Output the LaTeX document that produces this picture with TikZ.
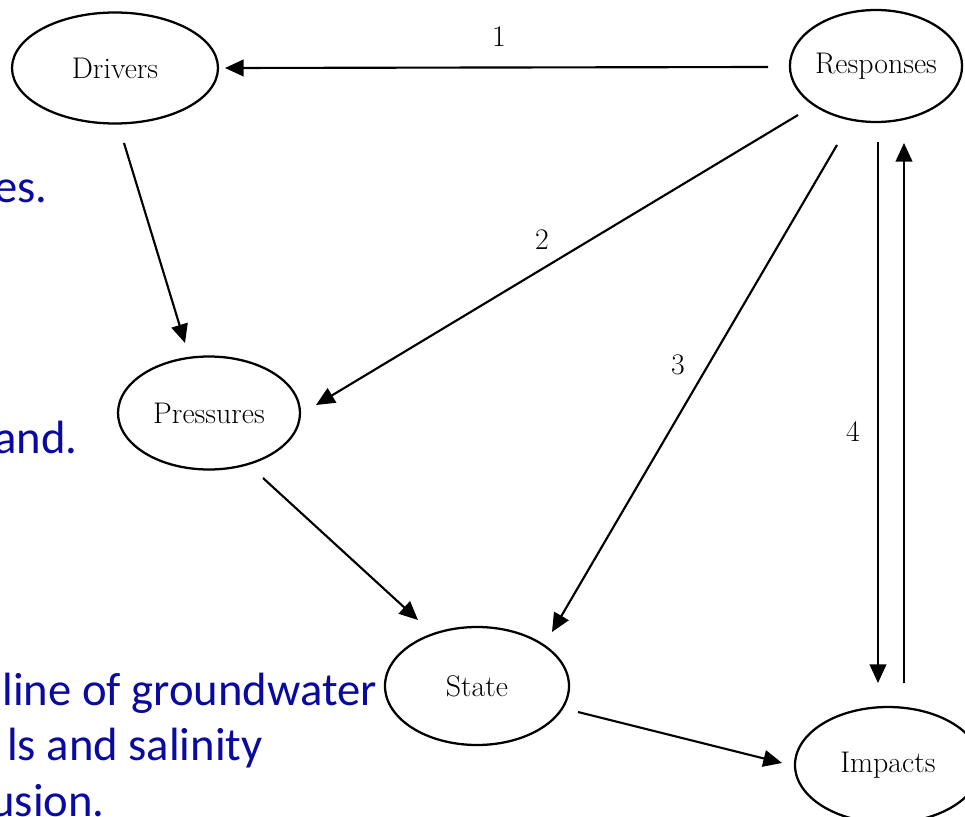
\documentclass[tikz,border=0pt]{standalone}
\usepackage{fontspec}
\newfontfamily\slidefont{Carlito}
\usetikzlibrary{shapes.geometric,arrows.meta}
\definecolor{slideblue}{RGB}{10,10,160}
\tikzset{
  stage/.style={ellipse, draw, line width=1.7pt, inner sep=0pt,
    font=\fontsize{22.4}{26}\selectfont},
  arr/.style={line width=1.6pt, -{Triangle[length=14pt,width=12.5pt]}},
  num/.style={font=\fontsize{22.4}{26}\selectfont},
  slide/.style={anchor=base east, inner sep=0pt, text=slideblue,
    font=\slidefont\fontsize{35}{42}\selectfont},
}
\begin{document}
\begin{tikzpicture}[x=0.75pt, y=-0.75pt]
\path[use as bounding box, clip] (0,0) rectangle (965,817);
\fill[white] (0,0) rectangle (965,817);

% slide text running in from the left
\node[slide] (t1) at (48,202) {es.};
\node[slide] (t2) at (78,453) {and.};
\node[slide] (t3) at (377,705) {line of groundwater};
\node[slide] (t4) at (263,760) {ls and salinity};
\node[slide] (t5) at (105,816) {usion.};

% DPSIR stages
\node[stage, minimum width=154.5pt, minimum height=83.25pt] (drv) at (115,68) {Drivers};
\node[stage, minimum width=129pt, minimum height=84pt] (rsp) at (876,66) {Responses};
\node[stage, minimum width=136.5pt, minimum height=84.75pt] (prs) at (209,413) {Pressures};
\node[stage, minimum width=138pt, minimum height=88.5pt] (sta) at (477,686) {State};
\node[stage, minimum width=139.5pt, minimum height=87pt] (imp) at (888,765) {Impacts};

% causal chain
\draw[arr] ([shift={(9,75)}]drv.center) -- ([shift={(-24,-70)}]prs.center);
\draw[arr] ([shift={(54,65)}]prs.center) -- ([shift={(-59,-66)}]sta.center);
\draw[arr] ([shift={(101,26)}]sta.center) -- ([shift={(-106,-2)}]imp.center);
\draw[arr] ([shift={(16,-82)}]imp.center) -- ([shift={(28,77)}]rsp.center);

% numbered responses
\draw[arr] ([shift={(-108,1)}]rsp.center) -- ([shift={(110,0)}]drv.center);
\draw[arr] ([shift={(-78,49)}]rsp.center) -- ([shift={(107,-8)}]prs.center);
\draw[arr] ([shift={(-39,79)}]rsp.center) -- ([shift={(75,-54)}]sta.center);
\draw[arr] ([shift={(2,76)}]rsp.center) -- ([shift={(-10,-82)}]imp.center);

\node[num] (n1) at (499,37) {1};
\node[num] (n2) at (542,240) {2};
\node[num] (n3) at (678,365) {3};
\node[num] (n4) at (853,432) {4};
\end{tikzpicture}
\end{document}
